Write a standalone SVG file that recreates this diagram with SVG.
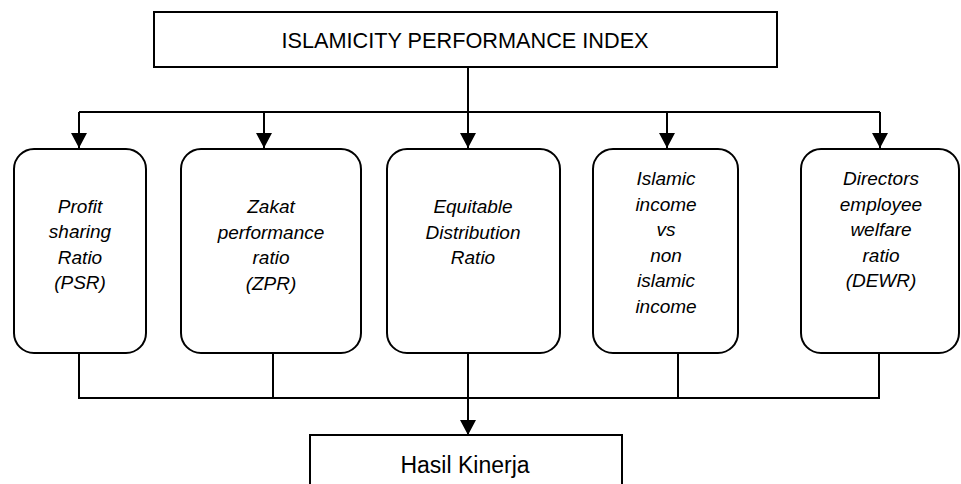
<svg xmlns="http://www.w3.org/2000/svg" width="961" height="484" viewBox="0 0 961 484">
  <style>
    .box { fill: #ffffff; stroke: #000000; stroke-width: 2; }
    .conn { fill: none; stroke: #000000; stroke-width: 2; }
    .title { font-family: "Liberation Sans", Arial, sans-serif; font-size: 21.7px; fill: #000000; text-anchor: middle; }
    .label { font-family: "Liberation Sans", Arial, sans-serif; font-size: 19px; font-style: italic; fill: #000000; text-anchor: middle; }
  </style>
  <defs>
    <marker id="arr" viewBox="0 0 15 16" refX="15" refY="8" markerWidth="15" markerHeight="16" markerUnits="userSpaceOnUse" orient="auto">
      <path d="M0,0 L15,8 L0,16 z" fill="#000000"/>
    </marker>
  </defs>
  <rect width="961" height="484" fill="#ffffff"/>

  <g id="connectors">
    <path class="conn" d="M468,67 V112"/>
    <path class="conn" d="M79,112 H880"/>
    <path class="conn" d="M79,112 V148" marker-end="url(#arr)"/>
    <path class="conn" d="M264,112 V148" marker-end="url(#arr)"/>
    <path class="conn" d="M468,112 V148" marker-end="url(#arr)"/>
    <path class="conn" d="M667,112 V148" marker-end="url(#arr)"/>
    <path class="conn" d="M880,112 V148" marker-end="url(#arr)"/>
    <path class="conn" d="M79,353 V398 H879 V353"/>
    <path class="conn" d="M273,353 V398"/>
    <path class="conn" d="M678,353 V398"/>
    <path class="conn" d="M468,353 V435" marker-end="url(#arr)"/>
  </g>

  <g id="ipi">
    <rect class="box" x="154" y="12" width="623" height="55"/>
    <text class="title" x="465" y="47.5">ISLAMICITY PERFORMANCE INDEX</text>
  </g>

  <g id="psr">
    <rect class="box" x="14" y="149" width="132" height="204" rx="20" ry="20"/>
    <text class="label" x="80" y="212.5">Profit</text>
    <text class="label" x="80" y="238">sharing</text>
    <text class="label" x="80" y="263.5">Ratio</text>
    <text class="label" x="80" y="289">(PSR)</text>
  </g>

  <g id="zpr">
    <rect class="box" x="181" y="149" width="180" height="204" rx="20" ry="20"/>
    <text class="label" x="271" y="213">Zakat</text>
    <text class="label" x="271" y="238.5">performance</text>
    <text class="label" x="271" y="264">ratio</text>
    <text class="label" x="271" y="289.5">(ZPR)</text>
  </g>

  <g id="edr">
    <rect class="box" x="387" y="149" width="173" height="204" rx="20" ry="20"/>
    <text class="label" x="473" y="213">Equitable</text>
    <text class="label" x="473" y="238.5">Distribution</text>
    <text class="label" x="473" y="264">Ratio</text>
  </g>

  <g id="iincome">
    <rect class="box" x="593" y="149" width="145" height="204" rx="20" ry="20"/>
    <text class="label" x="666" y="185">Islamic</text>
    <text class="label" x="666" y="210.5">income</text>
    <text class="label" x="666" y="236">vs</text>
    <text class="label" x="666" y="261.5">non</text>
    <text class="label" x="666" y="287">islamic</text>
    <text class="label" x="666" y="312.5">income</text>
  </g>

  <g id="dewr">
    <rect class="box" x="801" y="149" width="158" height="204" rx="20" ry="20"/>
    <text class="label" x="881" y="185">Directors</text>
    <text class="label" x="881" y="210.5">employee</text>
    <text class="label" x="881" y="236">welfare</text>
    <text class="label" x="881" y="261.5">ratio</text>
    <text class="label" x="881" y="287">(DEWR)</text>
  </g>

  <g id="hasil">
    <rect class="box" x="310" y="435" width="312" height="60"/>
    <text class="title" x="465" y="473" style="font-size:23px">Hasil Kinerja</text>
  </g>
</svg>
